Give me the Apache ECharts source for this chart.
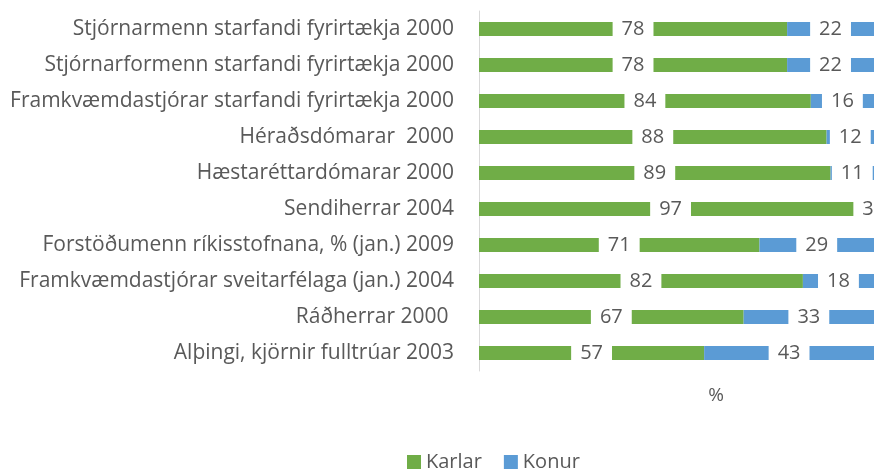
<!DOCTYPE html>
<html>
<head>
<meta charset="utf-8">
<script src="https://cdn.jsdelivr.net/npm/echarts@6/dist/echarts.min.js"></script>
<style>
  html, body { margin: 0; padding: 0; background: #fff; }
  #chart { width: 874px; height: 474px; }
</style>
</head>
<body>
<div id="chart"></div>
<script>
// Categories listed from top to bottom
const categories = [
  'Stjórnarmenn starfandi fyrirtækja 2000',
  'Stjórnarformenn starfandi fyrirtækja 2000',
  'Framkvæmdastjórar starfandi fyrirtækja 2000',
  'Héraðsdómarar  2000',
  'Hæstaréttardómarar 2000',
  'Sendiherrar 2004',
  'Forstöðumenn ríkisstofnana, % (jan.) 2009',
  'Framkvæmdastjórar sveitarfélaga (jan.) 2004',
  'Ráðherrar 2000 ',
  'Alþingi, kjörnir fulltrúar 2003'
];
const karlar = [78, 78, 84, 88, 89, 97, 71, 82, 67, 57];
const konur  = [22, 22, 16, 12, 11, 3, 29, 18, 33, 43];

const FONT = 'Open Sans';
const TEXT = '#595959';

const label = {
  show: true,
  position: 'inside',
  color: TEXT,
  fontFamily: FONT,
  fontSize: 20,
  backgroundColor: '#ffffff',
  padding: [1, 9]
};

const chart = echarts.init(document.getElementById('chart'));
chart.setOption({
  animation: false,
  textStyle: { fontFamily: FONT, color: TEXT },
  // plot area runs past the right edge of the canvas (axis max 120)
  grid: { left: 479, top: 11, width: 474, height: 360, containLabel: false, outerBoundsMode: 'none' },
  legend: {
    data: ['Karlar', 'Konur'],
    left: 402,
    top: 447,
    itemWidth: 14,
    itemHeight: 14,
    itemGap: 22,
    icon: 'rect',
    textStyle: { fontFamily: FONT, fontSize: 20, color: TEXT }
  },
  xAxis: {
    type: 'value',
    min: 0,
    max: 120,
    interval: 20,
    name: '%',
    nameLocation: 'middle',
    nameGap: 15,
    nameTextStyle: { fontFamily: FONT, fontSize: 19, color: TEXT, verticalAlign: 'top' },
    axisLine: { show: false },
    axisTick: { show: false },
    axisLabel: { show: false },
    splitLine: { show: false }
  },
  yAxis: {
    type: 'category',
    data: categories,
    inverse: true,
    axisLine: { show: true, lineStyle: { color: '#d9d9d9', width: 1 } },
    axisTick: { show: false },
    axisLabel: { fontFamily: FONT, fontSize: 21, color: TEXT, margin: 25 }
  },
  series: [
    {
      name: 'Karlar',
      type: 'bar',
      stack: 'total',
      barWidth: 14,
      data: karlar,
      itemStyle: { color: '#70ad47' },
      label: label
    },
    {
      name: 'Konur',
      type: 'bar',
      stack: 'total',
      barWidth: 14,
      data: konur,
      itemStyle: { color: '#5b9bd5' },
      label: label
    }
  ]
});
</script>
</body>
</html>
